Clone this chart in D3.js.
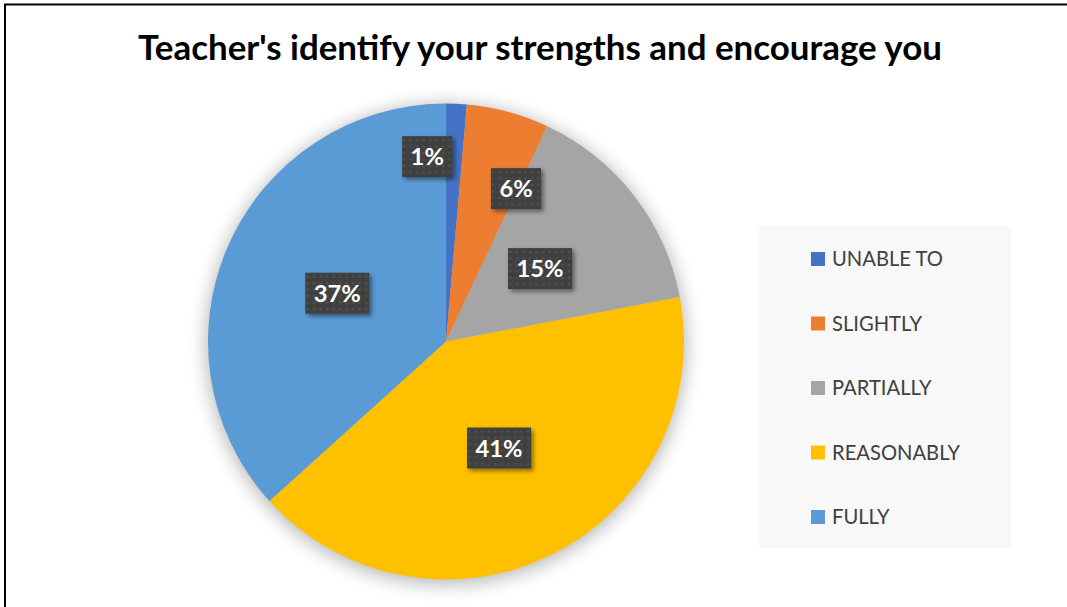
<!DOCTYPE html>
<html>
<head>
<meta charset="utf-8">
<script src="https://cdn.jsdelivr.net/npm/d3@7/dist/d3.min.js"></script>
<style>
  html, body { margin: 0; padding: 0; background: #fff; }
  svg { display: block; }
</style>
</head>
<body>
<svg id="chart" width="1067" height="607"></svg>
<script>
// ---- data ----
const chartTitle = "Teacher's identify your strengths and encourage you";
const categories = ["UNABLE TO", "SLIGHTLY", "PARTIALLY", "REASONABLY", "FULLY"];
const shares = [1.4, 5.6, 15.0, 41.3, 36.7];
const colors = ["#4472C4", "#ED7D31", "#A5A5A5", "#FFC000", "#5B9BD5"];

// ---- layout ----
const W = 1067, H = 607;
const cx = 446, cy = 341.5, R = 238;
const FONT = "Lato, 'Open Sans', sans-serif";
// small slices get their labels pushed clear of each other
const labelNudge = [[-24, -66], [39, -38], [0, 0], [0, 0], [0, 0]];

const svg = d3.select("#chart");
const defs = svg.append("defs");

// soft glow under the pie
const glow = defs.append("filter").attr("id", "pieGlow")
  .attr("x", "-20%").attr("y", "-20%").attr("width", "140%").attr("height", "140%");
glow.append("feGaussianBlur").attr("stdDeviation", 9);

// drop shadow for the label boxes
const boxShadow = defs.append("filter").attr("id", "boxShadow")
  .attr("x", "-30%").attr("y", "-30%").attr("width", "160%").attr("height", "160%");
boxShadow.append("feDropShadow").attr("dx", 2.5).attr("dy", 2.5)
  .attr("stdDeviation", 2).attr("flood-color", "#000").attr("flood-opacity", 0.45);

// dotted texture for the label boxes
const pat = defs.append("pattern").attr("id", "dots")
  .attr("patternUnits", "userSpaceOnUse").attr("width", 6.5).attr("height", 6.5);
pat.append("rect").attr("width", 6.5).attr("height", 6.5).attr("fill", "#404040");
pat.append("rect").attr("x", 2).attr("y", 2).attr("width", 2).attr("height", 2).attr("fill", "#545454");

// chart frame
svg.append("rect").attr("x", 0).attr("y", 0).attr("width", W).attr("height", H).attr("fill", "#fff");
svg.append("rect").attr("x", 5).attr("y", 4.5).attr("width", W + 20).attr("height", H + 20)
  .attr("fill", "none").attr("stroke", "#000").attr("stroke-width", 2);

// fit a text element's font size so that it spans a given width
function fitWidth(sel, target, base) {
  sel.attr("font-size", base);
  const w = sel.node().getComputedTextLength();
  const size = base * target / w;
  sel.attr("font-size", size);
  return size;
}

// title
const titleText = svg.append("text")
  .attr("x", 540).attr("y", 60)
  .attr("text-anchor", "middle")
  .attr("font-family", FONT).attr("font-weight", 700)
  .attr("fill", "#000")
  .text(chartTitle);
fitWidth(titleText, 804, 34);

// pie
const pie = d3.pie().sort(null).value(d => d);
const arcs = pie(shares);
const arc = d3.arc().innerRadius(0).outerRadius(R);
const total = d3.sum(shares);
const pct = d3.format(".0%");

const g = svg.append("g").attr("transform", `translate(${cx},${cy})`);
g.append("circle").attr("cx", 0).attr("cy", 3).attr("r", R + 2)
  .attr("fill", "#000").attr("opacity", 0.28).attr("filter", "url(#pieGlow)");
g.selectAll("path.slice").data(arcs).enter().append("path")
  .attr("class", "slice")
  .attr("d", arc)
  .attr("fill", (d, i) => colors[i]);

// data labels
const labels = g.selectAll("g.lbl").data(arcs).enter().append("g")
  .attr("class", "lbl")
  .attr("transform", (d, i) => {
    const c = arc.centroid(d);
    return `translate(${c[0] + labelNudge[i][0]},${c[1] + labelNudge[i][1]})`;
  });
const boxes = labels.append("rect").attr("fill", "url(#dots)").attr("filter", "url(#boxShadow)");
const lblText = labels.append("text")
  .attr("text-anchor", "middle")
  .attr("font-family", FONT).attr("font-weight", 700)
  .attr("fill", "#fff")
  .text(d => pct(d.value / total));
// size label font from the widest label
const probe = lblText.filter((d, i) => i === 4);
const lblSize = fitWidth(probe, 47, 27);
lblText.attr("font-size", lblSize).attr("y", lblSize * 0.36);
boxes.each(function (d, i) {
  const w = lblText.nodes()[i].getComputedTextLength() + 17;
  d3.select(this).attr("x", -w / 2).attr("y", -20.5).attr("width", w).attr("height", 41);
});

// legend
const legend = svg.append("g");
legend.append("rect").attr("x", 759).attr("y", 226).attr("width", 252).attr("height", 322)
  .attr("fill", "#F8F8F8");
const rowY = d3.scalePoint().domain(categories).range([259, 517]);
const items = legend.selectAll("g.item").data(categories).enter().append("g")
  .attr("class", "item")
  .attr("transform", d => `translate(0,${rowY(d)})`);
items.append("rect").attr("x", 811).attr("y", -7).attr("width", 14).attr("height", 14)
  .attr("fill", (d, i) => colors[i]);
const legText = items.append("text")
  .attr("x", 832)
  .attr("font-family", FONT).attr("fill", "#404040")
  .text(d => d);
const legSize = fitWidth(legText.filter((d, i) => i === 0), 111, 22);
legText.attr("font-size", legSize).attr("y", legSize * 0.35);
</script>
</body>
</html>
